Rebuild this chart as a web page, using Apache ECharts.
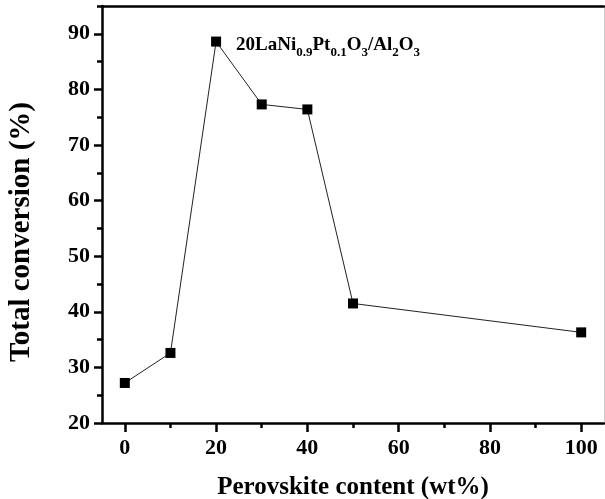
<!DOCTYPE html>
<html>
<head>
<meta charset="utf-8">
<script src="https://cdn.jsdelivr.net/npm/echarts@6/dist/echarts.min.js"></script>
<style>html,body{margin:0;padding:0;background:#fff}#c{width:605px;height:499px}</style>
</head>
<body>
<div id="c"></div>
<script>
const contents = [0, 10, 20, 30, 40, 50, 100];
const conversion = [27.2, 32.6, 88.6, 77.3, 76.4, 41.5, 36.3];
const xTicks = [0, 20, 40, 60, 80, 100];
const xMinorTicks = [10, 30, 50, 70, 90];
const yTicks = [20, 30, 40, 50, 60, 70, 80, 90];
const yMinorTicks = [25, 35, 45, 55, 65, 75, 85, 95];
const labelIndex = 2;

const F = '"Liberation Serif", "Times New Roman", serif';
const data = contents.map((x, i) => {
  const item = { value: [x, conversion[i]] };
  if (i === labelIndex) {
    item.label = {
      show: true,
      position: 'right',
      distance: 15,
      formatter: '{m|20LaNi}{s|0.9}{m|Pt}{s|0.1}{m|O}{s|3}{m|/Al}{s|2}{m|O}{s|3}',
      rich: {
        m: { fontFamily: F, fontWeight: 'bold', fontSize: 19, color: '#000', verticalAlign: 'bottom', lineHeight: 22 },
        s: { fontFamily: F, fontWeight: 'bold', fontSize: 13, color: '#000', verticalAlign: 'bottom', lineHeight: 22, padding: [0, 0, -5, 0] }
      },
      offset: [0, 2]
    };
  }
  return item;
});

const chart = echarts.init(document.getElementById('c'), null, { renderer: 'canvas' });
const lineBlack = { color: '#000', width: 2.5 };
chart.setOption({
  animation: false,
  backgroundColor: '#fff',
  grid: { left: 102, right: 1, top: 6, bottom: 76, containLabel: false, outerBoundsMode: 'none' },
  xAxis: [
    {
      type: 'value', min: -5, max: 105, interval: 10,
      name: 'Perovskite content (wt%)', nameLocation: 'middle', nameGap: 52,
      nameTextStyle: { fontFamily: F, fontWeight: 'bold', fontSize: 25, color: '#000' },
      axisLine: { show: true, onZero: false, lineStyle: lineBlack },
      axisTick: { show: true, length: 9, lineStyle: lineBlack, customValues: xTicks },
      axisLabel: { fontFamily: F, fontWeight: 'bold', fontSize: 22, color: '#000', margin: 14, customValues: xTicks },
      splitLine: { show: false }
    },
    {
      type: 'value', min: -5, max: 105, position: 'bottom',
      axisLine: { show: false, onZero: false }, axisLabel: { show: false }, splitLine: { show: false },
      axisTick: { show: true, length: 5, lineStyle: lineBlack, customValues: xMinorTicks }
    },
    {
      type: 'value', min: -5, max: 105, position: 'top',
      axisLine: { show: true, onZero: false, lineStyle: lineBlack },
      axisTick: { show: false }, axisLabel: { show: false }, splitLine: { show: false }
    }
  ],
  yAxis: [
    {
      type: 'value', min: 20, max: 95, interval: 5,
      axisLine: { show: true, onZero: false, lineStyle: lineBlack },
      axisTick: { show: true, length: 8, lineStyle: lineBlack, customValues: yTicks },
      axisLabel: { fontFamily: F, fontWeight: 'bold', fontSize: 22, color: '#000', margin: 12, customValues: yTicks },
      splitLine: { show: false }
    },
    {
      type: 'value', min: 20, max: 95, position: 'left',
      axisLine: { show: false, onZero: false }, axisLabel: { show: false }, splitLine: { show: false },
      axisTick: { show: true, length: 5, lineStyle: lineBlack, customValues: yMinorTicks }
    },
    {
      type: 'value', min: 20, max: 95, position: 'right',
      axisLine: { show: true, onZero: false, lineStyle: { color: '#ccc', width: 1 } },
      axisTick: { show: false }, axisLabel: { show: false }, splitLine: { show: false }
    }
  ],
  graphic: [
    {
      type: 'text', x: 22, y: 232, rotation: Math.PI / 2,
      style: { text: 'Total conversion (%)', font: 'bold 29px ' + F, fill: '#000', textAlign: 'center', textVerticalAlign: 'middle' }
    }
  ],
  series: [
    {
      type: 'line', data: data, symbol: 'rect', symbolSize: 10,
      itemStyle: { color: '#000' },
      lineStyle: { color: '#222', width: 1 },
      label: { show: false }
    }
  ]
});
</script>
</body>
</html>
